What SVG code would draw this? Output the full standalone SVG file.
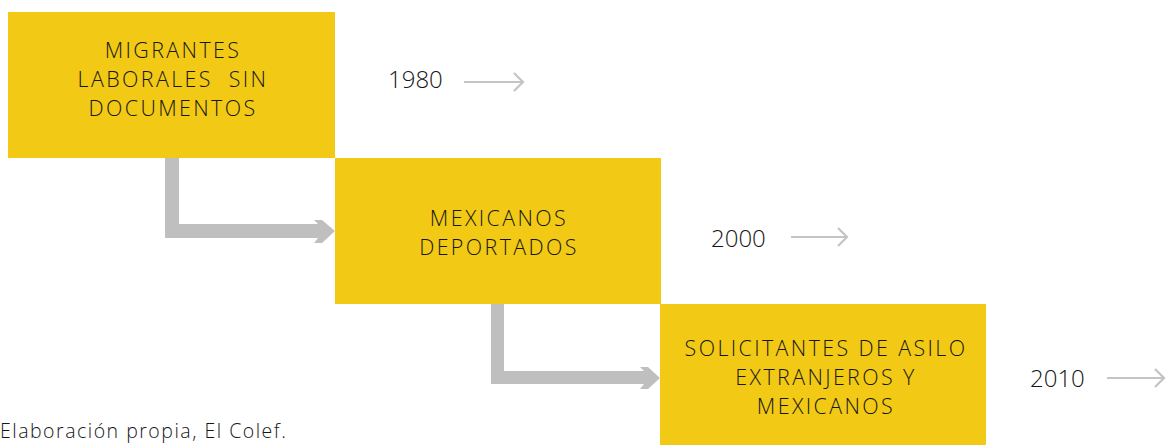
<svg xmlns="http://www.w3.org/2000/svg" width="1167" height="445" viewBox="0 0 1167 445">
<style>
.box{fill:#F2C914}
.lbl{font-family:"Open Sans","Liberation Sans",sans-serif;font-weight:300;font-size:21.4px;letter-spacing:2.4px;fill:#161616;text-anchor:middle}
.yr{font-family:"Open Sans","Liberation Sans",sans-serif;font-weight:300;font-size:24px;fill:#161616}
.foot{font-family:"Open Sans","Liberation Sans",sans-serif;font-weight:300;font-size:19.5px;letter-spacing:1.5px;fill:#161616}
.thin{fill:none;stroke:#C4C4C4;stroke-width:2.2}
.thick{fill:#BFBFBF}
</style>
<rect width="1167" height="445" fill="#ffffff"/>
<g id="node-migrantes">
<rect class="box" x="8" y="12" width="327" height="146"/>
<text class="lbl" x="173" y="58">MIGRANTES</text>
<text class="lbl" x="173" y="87" xml:space="preserve">LABORALES  SIN</text>
<text class="lbl" x="173" y="116">DOCUMENTOS</text>
</g>
<g id="node-deportados">
<rect class="box" x="335" y="158" width="326" height="146"/>
<text class="lbl" x="499" y="226">MEXICANOS</text>
<text class="lbl" x="499" y="255">DEPORTADOS</text>
</g>
<g id="node-solicitantes">
<rect class="box" x="660" y="304" width="326" height="141"/>
<text class="lbl" x="826" y="356">SOLICITANTES DE ASILO</text>
<text class="lbl" x="826" y="385">EXTRANJEROS Y</text>
<text class="lbl" x="826" y="414">MEXICANOS</text>
</g>
<g id="years">
<text class="yr" x="388" y="88">1980</text>
<text class="yr" x="711" y="247">2000</text>
<text class="yr" x="1030" y="387">2010</text>
</g>
<g id="connectors">
<polygon class="thick" points="165,158 179,158 179,224 318,224 314,220 322,220 335,231 322,243 314,243 318,238 165,238"/>
<polygon class="thick" points="491,304 504,304 504,371 644,371 640,367 648,367 660,378 648,389 640,389 644,384 491,384"/>
<path class="thin" d="M464,82 H523 M514,73 L523,82 L514,91"/>
<path class="thin" d="M791,237 H847 M838,228 L847,237 L838,246"/>
<path class="thin" d="M1107,378 H1164 M1155,369 L1164,378 L1155,387"/>
</g>
<text class="foot" x="0" y="438">Elaboración propia, El Colef.</text>
</svg>
